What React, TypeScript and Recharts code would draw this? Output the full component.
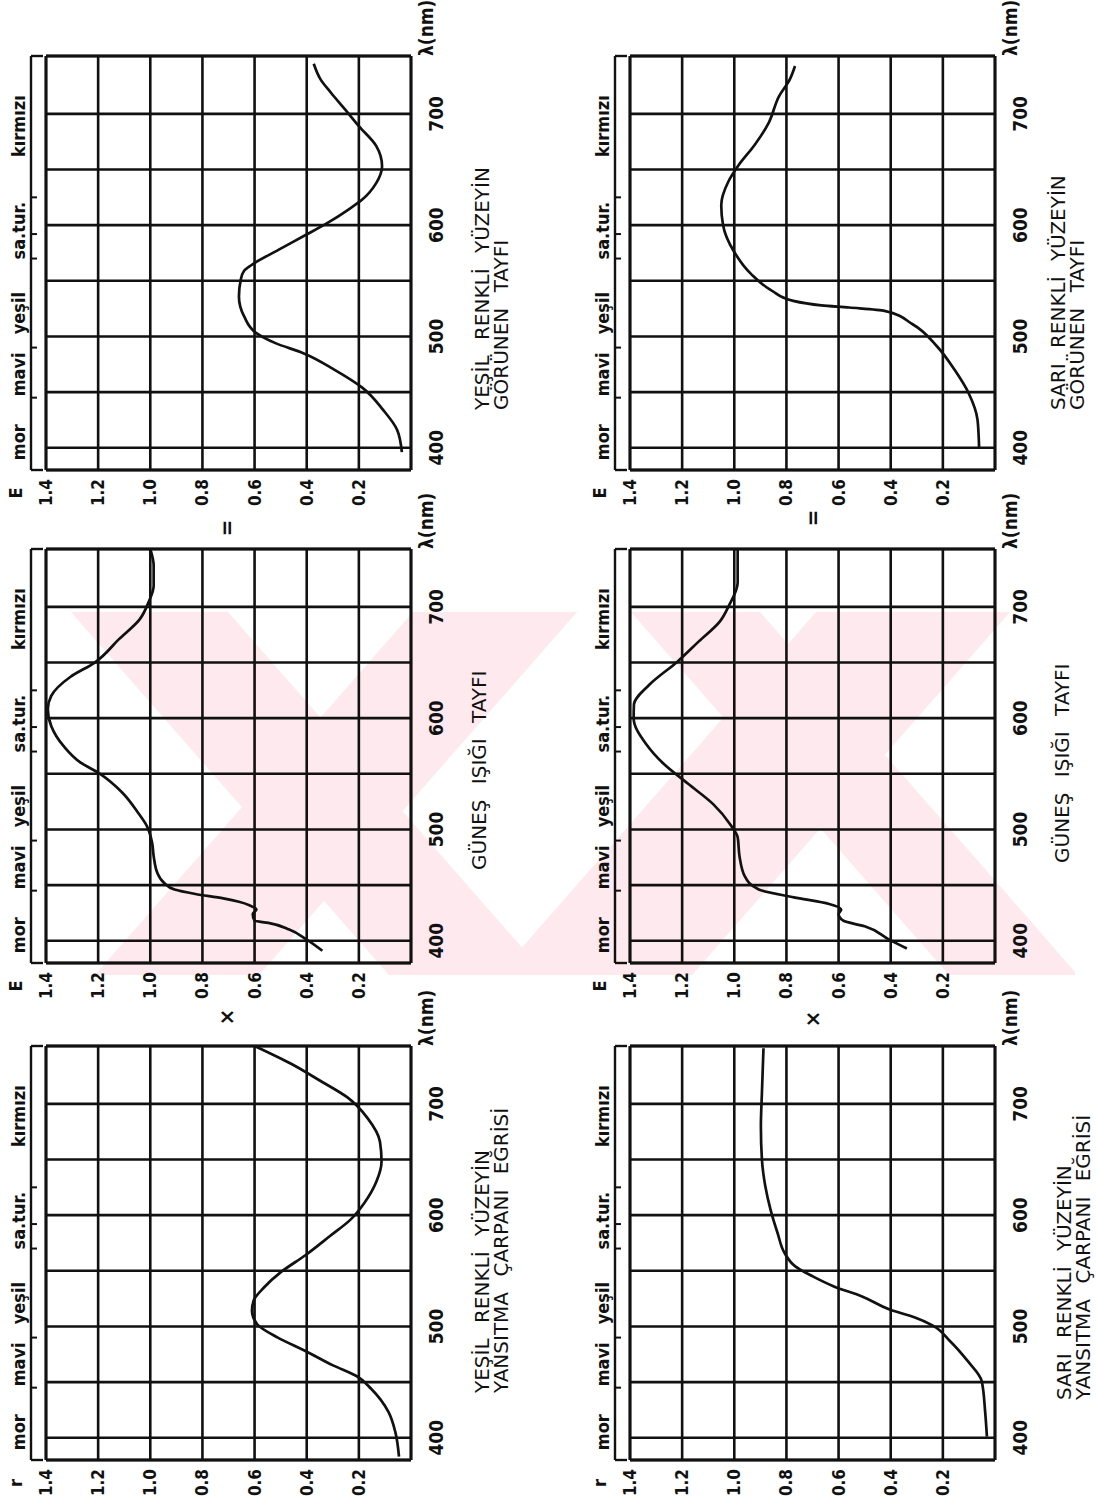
import React from "react";
import {
  LineChart,
  Line,
  XAxis,
  YAxis,
  CartesianGrid,
  ReferenceLine,
  Label,
} from "recharts";

// wavelength axis (nm) and value axis
const NM_DOMAIN: [number, number] = [380, 752];
const NM_TICKS = [380, 400, 450, 500, 550, 600, 650, 700, 752];
const VALUE_TICKS = [0, 0.2, 0.4, 0.6, 0.8, 1.0, 1.2, 1.4];

// colour bands drawn above every grid
const BAND_EDGES = [445, 490, 570, 592, 625];
const BAND_CENTERS = [405, 466, 521, 595, 689];
const BAND_NAMES = ["mor", "mavi", "yeşil", "sa.tur.", "kırmızı"];

// green surface: reflectance r
const GREEN_R_NM = [383, 405, 423, 444, 455, 465, 478, 490, 502, 514, 523, 535, 549, 564, 581, 596, 611, 630, 648, 666, 687, 706, 721, 736, 752];
const GREEN_R = [0.046, 0.06, 0.086, 0.153, 0.206, 0.299, 0.405, 0.511, 0.59, 0.61, 0.604, 0.564, 0.498, 0.405, 0.312, 0.232, 0.179, 0.133, 0.113, 0.119, 0.166, 0.245, 0.35, 0.46, 0.6];

// sunlight spectrum E (upper copy)
const SUN1_NM = [391, 401, 410, 416, 418, 424, 428, 432, 435, 438, 442, 446, 452, 461, 476, 488, 503, 515, 533, 551, 560, 575, 593, 608, 620, 637, 650, 671, 689, 704, 719, 737, 752];
const SUN1_E = [0.34, 0.4, 0.467, 0.547, 0.6, 0.607, 0.593, 0.62, 0.66, 0.72, 0.827, 0.907, 0.947, 0.973, 0.987, 0.993, 1.013, 1.047, 1.107, 1.2, 1.267, 1.333, 1.38, 1.393, 1.38, 1.307, 1.213, 1.12, 1.04, 1.007, 0.987, 0.987, 1.0];

// green surface: visible spectrum E
const GREEN_E_NM = [396, 416, 434, 454, 470, 485, 494, 503, 518, 536, 551, 559, 564, 578, 590, 602, 614, 623, 638, 653, 671, 689, 704, 719, 731, 745];
const GREEN_E = [0.035, 0.053, 0.107, 0.187, 0.293, 0.413, 0.52, 0.593, 0.64, 0.66, 0.653, 0.64, 0.613, 0.507, 0.413, 0.32, 0.24, 0.187, 0.133, 0.111, 0.133, 0.2, 0.253, 0.307, 0.347, 0.373];

// yellow surface: reflectance r
const YELLOW_R_NM = [401, 424, 451, 469, 487, 501, 508, 515, 527, 536, 545, 554, 566, 584, 605, 626, 650, 680, 710, 750];
const YELLOW_R = [0.031, 0.038, 0.051, 0.105, 0.173, 0.24, 0.307, 0.402, 0.51, 0.618, 0.699, 0.766, 0.807, 0.834, 0.861, 0.881, 0.894, 0.898, 0.894, 0.888];

// sunlight spectrum E (lower copy)
const SUN2_NM = [393, 401, 413, 418, 424, 428, 433, 439, 446, 458, 476, 493, 504, 523, 541, 559, 577, 600, 612, 630, 651, 669, 687, 701, 722, 752];
const SUN2_E = [0.338, 0.406, 0.5, 0.582, 0.6, 0.59, 0.636, 0.771, 0.906, 0.96, 0.98, 0.987, 1.014, 1.082, 1.177, 1.271, 1.339, 1.386, 1.385, 1.326, 1.217, 1.136, 1.055, 1.021, 0.987, 0.987];

// yellow surface: visible spectrum E
const YELLOW_E_NM = [400, 425, 449, 470, 491, 511, 523, 526, 528, 532, 541, 556, 577, 600, 618, 639, 654, 672, 692, 716, 731, 743];
const YELLOW_E = [0.061, 0.067, 0.101, 0.155, 0.222, 0.316, 0.424, 0.559, 0.666, 0.774, 0.855, 0.935, 1.003, 1.043, 1.05, 1.023, 0.983, 0.922, 0.868, 0.828, 0.787, 0.767];

const zip = (nm: number[], v: number[]) => nm.map((x, i) => ({ nm: x, v: v[i] }));

const INK = "#111";
const PINK = "#fde9ee";

// plot box size and chart margins (drawn in the un-rotated frame)
const PW = 414;
const PH = 365;
const M = { top: 15, right: 70, bottom: 10, left: 4 };
const Y_W = 46;
const X_H = 30;
const BAND_H = 30;
const CW = M.left + Y_W + PW + M.right;
const CH = M.top + BAND_H + PH + X_H + M.bottom;
const UNIT = PH / 1.4;
const BRACKET = 1.4 + 15 / UNIT;
const BRACKET_TICK = 1.4 + 9 / UNIT;
const BRACKET_HOOK = 1.4 + 3 / UNIT;

const COLS = [46, 543, 1036];
const ROWS = [46, 630];

interface PanelProps {
  data: { nm: number; v: number }[];
  left: number;
  top: number;
  letter: string;
}

function Panel({ data, left, top, letter }: PanelProps) {
  const seg = (x1: number, y1: number, x2: number, y2: number) => [
    { x: x1, y: y1 },
    { x: x2, y: y2 },
  ];
  return (
    <div
      style={{
        position: "absolute",
        left: left - M.left - Y_W,
        top: top - M.top - BAND_H,
      }}
    >
      <LineChart width={CW} height={CH} data={data} margin={M}>
        <CartesianGrid stroke={INK} strokeWidth={2.6} />
        <XAxis
          xAxisId="band"
          dataKey="nm"
          orientation="top"
          type="number"
          domain={NM_DOMAIN}
          allowDataOverflow
          ticks={BAND_CENTERS}
          interval={0}
          tickFormatter={(v) => BAND_NAMES[BAND_CENTERS.indexOf(v)] ?? ""}
          axisLine={false}
          tickLine={false}
          tickSize={0}
          tickMargin={21}
          height={BAND_H}
          tick={{ fontSize: 18, fill: INK, fontWeight: "bold" }}
        />
        <XAxis
          dataKey="nm"
          type="number"
          domain={NM_DOMAIN}
          allowDataOverflow
          ticks={NM_TICKS}
          interval={0}
          tickFormatter={(v) => (v % 100 === 0 ? String(v) : "")}
          axisLine={false}
          tickLine={false}
          tickSize={0}
          tickMargin={19}
          height={X_H}
          tick={{ fontSize: 19, fill: INK, fontWeight: "bold" }}
        >
          <Label value="λ(nm)" position="right" offset={0} fontSize={19} fontWeight="bold" fill={INK} />
        </XAxis>
        <YAxis
          type="number"
          domain={[0, 1.4]}
          ticks={VALUE_TICKS}
          interval={0}
          allowDataOverflow
          tickFormatter={(v) => (v === 0 ? "" : v.toFixed(1))}
          axisLine={false}
          tickLine={false}
          tickSize={0}
          tickMargin={9}
          width={Y_W}
          tick={{ fontSize: 17, fill: INK, fontWeight: "bold" }}
        >
          <Label value={letter} position="top" offset={24} fontSize={18} fontWeight="bold" fill={INK} />
        </YAxis>

        {/* plot frame */}
        <ReferenceLine x={NM_DOMAIN[0]} stroke={INK} strokeWidth={2.8} />
        <ReferenceLine x={NM_DOMAIN[1]} stroke={INK} strokeWidth={2.8} />
        <ReferenceLine y={0} stroke={INK} strokeWidth={2.8} />
        <ReferenceLine y={1.4} stroke={INK} strokeWidth={2.8} />

        {/* colour band bracket */}
        <ReferenceLine
          segment={seg(NM_DOMAIN[0], BRACKET, NM_DOMAIN[1], BRACKET)}
          ifOverflow="visible"
          stroke={INK}
          strokeWidth={2.4}
        />
        <ReferenceLine
          segment={seg(NM_DOMAIN[0], BRACKET, NM_DOMAIN[0], BRACKET_HOOK)}
          ifOverflow="visible"
          stroke={INK}
          strokeWidth={2.4}
        />
        <ReferenceLine
          segment={seg(NM_DOMAIN[1], BRACKET, NM_DOMAIN[1], BRACKET_HOOK)}
          ifOverflow="visible"
          stroke={INK}
          strokeWidth={2.4}
        />
        {BAND_EDGES.map((b) => (
          <ReferenceLine
            key={b}
            segment={seg(b, BRACKET, b, BRACKET_TICK)}
            ifOverflow="visible"
            stroke={INK}
            strokeWidth={2}
          />
        ))}

        {/* invisible copy that ties the band axis to the data */}
        <Line
          xAxisId="band"
          dataKey="v"
          stroke="none"
          dot={false}
          activeDot={false}
          isAnimationActive={false}
        />
        <Line
          dataKey="v"
          type="monotone"
          stroke={INK}
          strokeWidth={2.7}
          dot={false}
          activeDot={false}
          isAnimationActive={false}
        />
      </LineChart>
    </div>
  );
}

interface TitleProps {
  lines: string[];
  x: number;
  y: number;
}

function Title({ lines, x, y }: TitleProps) {
  return (
    <text
      x={x}
      y={y}
      fontSize={20}
      fill={INK}
      style={{ fontFamily: "'DejaVu Sans', sans-serif", fontStretch: "normal", wordSpacing: 9 }}
    >
      {lines.map((l, i) => (
        <tspan key={i} x={x} y={y + i * 19}>
          {l}
        </tspan>
      ))}
    </text>
  );
}

// pale watermark behind the middle row of the page (page coordinates)
const WATERMARK = [
  "71,612 228,612 546,975 389,975",
  "413,612 577,612 259,975 95,975",
  "631,612 760,612 1075,972 1075,975 949,975",
  "816,612 1010,612 692,975 498,975",
];

export default function App() {
  const PB1 = ROWS[0] + PH;
  const PB2 = ROWS[1] + PH;
  return (
    <div
      style={{
        position: "absolute",
        left: 0,
        top: 0,
        width: 1096,
        height: 1506,
        overflow: "hidden",
        background: "#fff",
      }}
    >
      <svg width={1096} height={1506} style={{ position: "absolute", left: 0, top: 0 }}>
        <defs>
          <clipPath id="wm">
            <rect x={68} y={612} width={1007} height={363} />
          </clipPath>
        </defs>
        <g clipPath="url(#wm)">
          {WATERMARK.map((p, i) => (
            <polygon key={i} points={p} fill={PINK} />
          ))}
        </g>
      </svg>

      <div
        style={{
          position: "absolute",
          left: 0,
          top: 0,
          width: 1506,
          height: 1096,
          transformOrigin: "0 0",
          transform: "translate(0px, 1506px) rotate(-90deg)",
          fontFamily: "'DejaVu Sans Condensed', 'DejaVu Sans', sans-serif",
          fontStretch: "condensed",
          color: INK,
        }}
      >
        <Panel data={zip(GREEN_R_NM, GREEN_R)} left={COLS[0]} top={ROWS[0]} letter="r" />
        <Panel data={zip(SUN1_NM, SUN1_E)} left={COLS[1]} top={ROWS[0]} letter="E" />
        <Panel data={zip(GREEN_E_NM, GREEN_E)} left={COLS[2]} top={ROWS[0]} letter="E" />
        <Panel data={zip(YELLOW_R_NM, YELLOW_R)} left={COLS[0]} top={ROWS[1]} letter="r" />
        <Panel data={zip(SUN2_NM, SUN2_E)} left={COLS[1]} top={ROWS[1]} letter="E" />
        <Panel data={zip(YELLOW_E_NM, YELLOW_E)} left={COLS[2]} top={ROWS[1]} letter="E" />

        <svg
          width={1506}
          height={1096}
          style={{ position: "absolute", left: 0, top: 0, pointerEvents: "none" }}
        >
          <Title lines={["YEŞİL RENKLİ YÜZEYİN", "YANSITMA ÇARPANI EĞRİSİ"]} x={COLS[0] + 67} y={PB1 + 78} />
          <Title lines={["GÜNEŞ IŞIĞI TAYFI"]} x={COLS[1] + 93} y={PB1 + 75} />
          <Title lines={["YEŞİL RENKLİ YÜZEYİN", "GÖRÜNEN TAYFI"]} x={COLS[2] + 60} y={PB1 + 78} />
          <Title lines={["SARI RENKLİ YÜZEYİN", "YANSITMA ÇARPANI EĞRİSİ"]} x={COLS[0] + 60} y={PB2 + 76} />
          <Title lines={["GÜNEŞ IŞIĞI TAYFI"]} x={COLS[1] + 100} y={PB2 + 74} />
          <Title lines={["SARI RENKLİ YÜZEYİN", "GÖRÜNEN TAYFI"]} x={COLS[2] + 60} y={PB2 + 70} />

          <text x={489} y={226} fontSize={22} fontWeight="bold" textAnchor="middle" dominantBaseline="central" fill={INK}>
            ×
          </text>
          <text x={487} y={812} fontSize={22} fontWeight="bold" textAnchor="middle" dominantBaseline="central" fill={INK}>
            ×
          </text>
          <text x={978} y={226} fontSize={22} fontWeight="bold" textAnchor="middle" dominantBaseline="central" fill={INK}>
            =
          </text>
          <text x={988} y={812} fontSize={22} fontWeight="bold" textAnchor="middle" dominantBaseline="central" fill={INK}>
            =
          </text>
        </svg>
      </div>
    </div>
  );
}
